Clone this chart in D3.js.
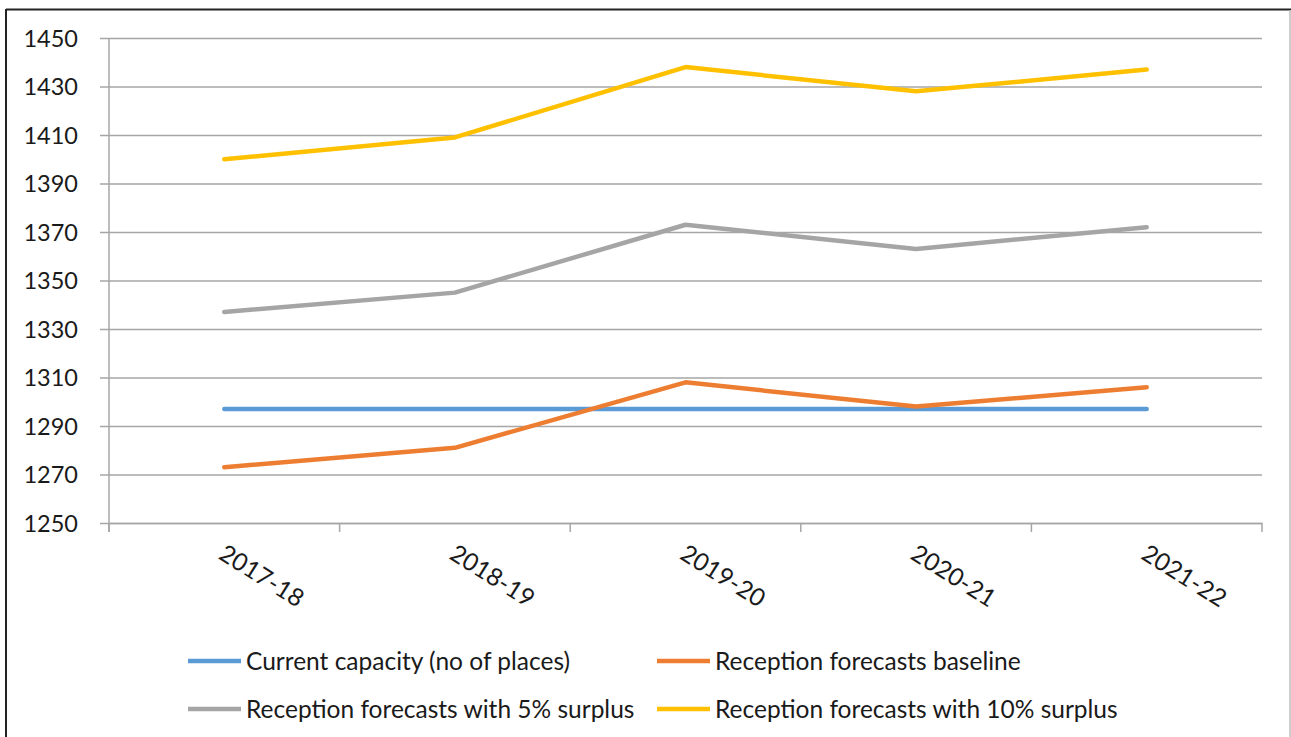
<!DOCTYPE html>
<html><head><meta charset="utf-8">
<script src="https://cdn.jsdelivr.net/npm/d3@7"></script>
<style>
html,body{margin:0;padding:0;background:#fff;}
svg{display:block;}
text{font-family:Lato,"Open Sans",sans-serif;fill:#1a1a1a;}
</style></head>
<body>
<svg id="chart" width="1291" height="737"></svg>
<script>
const categories = ["2017-18","2018-19","2019-20","2020-21","2021-22"];
const currentCapacity = [1297,1297,1297,1297,1297];
const baseline = [1273,1281,1308,1298,1306];
const surplus5 = [1337,1345,1373,1363,1372];
const surplus10 = [1400,1409,1438,1428,1437];
const yTicks = [1250,1270,1290,1310,1330,1350,1370,1390,1410,1430,1450];
const seriesNames = ["Current capacity (no of places)","Reception forecasts baseline","Reception forecasts with 5% surplus","Reception forecasts with 10% surplus"];
const seriesValues = [currentCapacity, baseline, surplus5, surplus10];
const colors = ["#5B9BD5","#ED7D31","#A5A5A5","#FFC000"];

const svg = d3.select("#chart");
const pLeft = 109, pRight = 1262, pTop = 38, pBottom = 523;
const x = d3.scaleBand().domain(categories).range([pLeft, pRight]).padding(0);
const y = d3.scaleLinear().domain([1250,1450]).range([pBottom, pTop]);
const cx = c => x(c) + x.bandwidth()/2;

// frame
svg.append("line").attr("x1",6).attr("x2",1291).attr("y1",9.5).attr("y2",9.5).attr("stroke","#222").attr("stroke-width",2);
svg.append("line").attr("x1",6).attr("x2",6).attr("y1",9).attr("y2",737).attr("stroke","#222").attr("stroke-width",2);
svg.append("line").attr("x1",1290).attr("x2",1290).attr("y1",10).attr("y2",737).attr("stroke","#bdbdbd").attr("stroke-width",1.5);

// y axis + gridlines
const yAxis = d3.axisLeft(y).tickValues(yTicks).tickSize(-(pRight - 100)).tickPadding(22).tickFormat(d3.format("d"));
const gy = svg.append("g").attr("transform","translate(100,0)").call(yAxis);
gy.select(".domain").remove();
gy.selectAll(".tick line").attr("stroke","#a6a6a6").attr("stroke-width",1.5);
gy.selectAll(".tick text").style("font-size","23.5px").attr("fill","#1a1a1a").attr("dy","0.36em");

// vertical axis line
svg.append("line").attr("x1",pLeft).attr("x2",pLeft).attr("y1",pTop).attr("y2",pBottom+9).attr("stroke","#a6a6a6").attr("stroke-width",1.5);

// x axis
const gx = svg.append("g").attr("transform",`translate(0,${pBottom})`).call(d3.axisBottom(x).tickSize(0).tickPadding(0));
gx.select(".domain").attr("stroke","#a6a6a6").attr("stroke-width",1.5);
gx.selectAll(".tick text")
  .style("font-size","24.5px").attr("fill","#1a1a1a")
  .attr("text-anchor","start").attr("dy",0).attr("y",0)
  .attr("transform","translate(-7,35) rotate(32)");
const bounds = categories.map(c => x(c)).concat([x.range()[1]]);
svg.append("g").selectAll("line").data(bounds).join("line")
  .attr("x1",d=>d).attr("x2",d=>d).attr("y1",pBottom).attr("y2",pBottom+9)
  .attr("stroke","#a6a6a6").attr("stroke-width",1.5);

// lines
const line = d3.line().x((d,i)=>cx(categories[i])).y(d=>y(d));
svg.append("g").selectAll("path").data(seriesValues).join("path")
  .attr("d", d=>line(d)).attr("fill","none")
  .attr("stroke",(d,i)=>colors[i]).attr("stroke-width",4.5)
  .attr("stroke-linejoin","round").attr("stroke-linecap","round");

// legend
const legPos = [[188,661],[657,661],[188,709],[657,709]];
const lg = svg.append("g").selectAll("g").data(seriesNames).join("g")
  .attr("transform",(d,i)=>`translate(${legPos[i][0]},${legPos[i][1]})`);
lg.append("line").attr("x1",0).attr("x2",53).attr("y1",0).attr("y2",0)
  .attr("stroke",(d,i)=>colors[i]).attr("stroke-width",4.5);
lg.append("text").attr("x",58).attr("y",0).attr("dy","0.36em").style("font-size","24.5px").text(d=>d);
</script>
</body></html>
